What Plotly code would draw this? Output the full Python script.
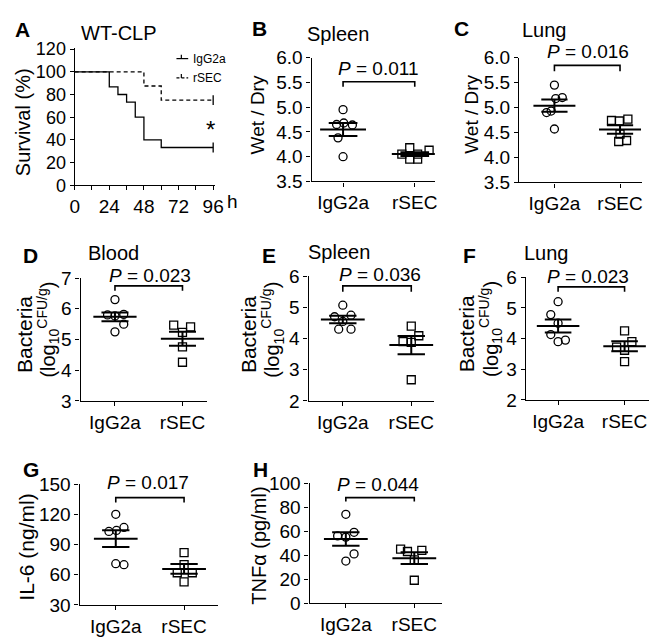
import numpy as np
import plotly.graph_objects as go

W, H = 658, 637
FONT = "Liberation Sans, Arial, sans-serif"

# ---------------- data ----------------
# Panel A survival (Kaplan-Meier steps)
surv_time_igg = [0, 24, 30, 36, 42, 48, 60, 96]
surv_igg = [100, 86.7, 80, 73.3, 60, 40, 33.3, 33.3]
surv_time_rsec = [0, 48, 60, 96]
surv_rsec = [100, 87.5, 75, 75]
surv_ticks = [0, 12, 24, 36, 48, 60, 72, 84, 96]
surv_names = ["IgG2a", "rSEC"]

groups = ["IgG2a", "rSEC"]

# B Spleen wet/dry
b_igg = [4.95, 4.65, 4.68, 4.64, 4.38, 4.00]
b_igg_j = [0.0, -0.09, 0.01, 0.13, -0.07, 0.0]
b_rsec = [4.05, 4.18, 3.95, 3.95, 4.05, 4.13]
b_rsec_j = [-0.18, -0.07, -0.07, 0.04, 0.04, 0.2]
# C Lung wet/dry
c_igg = [5.45, 5.18, 5.20, 4.90, 4.93, 4.57]
c_igg_j = [0.0, 0.02, 0.12, -0.12, -0.05, 0.0]
c_rsec = [4.74, 4.73, 4.77, 4.47, 4.32, 4.34]
c_rsec_j = [-0.13, -0.01, 0.12, 0.0, -0.02, 0.1]
# D Blood bacteria
d_igg = [6.30, 5.80, 5.77, 5.82, 5.50, 5.25]
d_igg_j = [0.0, -0.11, 0.0, 0.13, 0.13, 0.0]
d_rsec = [5.47, 5.41, 5.23, 4.76, 4.26]
d_rsec_j = [-0.13, 0.12, 0.0, 0.0, 0.0]
# E Spleen bacteria
e_igg = [5.07, 4.70, 4.75, 4.55, 4.30, 4.30]
e_igg_j = [0.0, -0.12, 0.12, 0.0, -0.06, 0.12]
e_rsec = [4.40, 4.09, 3.90, 3.88, 2.68]
e_rsec_j = [0.0, 0.11, -0.12, 0.0, 0.0]
# F Lung bacteria
f_igg = [5.20, 4.78, 4.50, 4.13, 3.90, 3.95]
f_igg_j = [0.0, -0.11, 0.0, -0.11, 0.0, 0.11]
f_rsec = [4.25, 3.90, 3.72, 3.62, 3.25]
f_rsec_j = [0.0, 0.11, -0.12, 0.0, 0.0]
# G IL-6
g_igg = [120, 103, 104, 107, 71, 70]
g_igg_j = [0.0, -0.1, 0.01, 0.12, 0.0, 0.12]
g_rsec = [82, 70, 62, 62, 53]
g_rsec_j = [0.0, 0.0, -0.1, 0.12, 0.0]
# H TNF-alpha
h_igg = [74, 56, 55, 59, 35, 41]
h_igg_j = [0.0, -0.12, 0.0, 0.12, 0.0, 0.12]
h_rsec = [45, 43, 44, 36, 19]
h_rsec_j = [-0.2, -0.1, 0.11, 0.0, 0.0]

p_values = ["0.011", "0.016", "0.023", "0.036", "0.023", "0.017", "0.044"]

# ---------------- helpers ----------------
def fx(px):
    return px / W

def fy(py):
    return 1 - py / H

fig = go.Figure()

TICK = 19
axis_common = dict(showline=True, linecolor="black", linewidth=1.3, ticks="outside",
                   ticklen=4, tickwidth=1.3, tickcolor="black", showgrid=False,
                   zeroline=False, tickfont=dict(family=FONT, size=TICK, color="black"))

def label(text, x_px, y_px, size=17, bold=False, anchor="center", angle=0):
    t = f"<b>{text}</b>" if bold else text
    fig.add_annotation(x=fx(x_px), y=fy(y_px), xref="paper", yref="paper", text=t,
                       showarrow=False, font=dict(family=FONT, size=size, color="black"),
                       xanchor=anchor, yanchor="middle", textangle=angle)

def add_axes(i, xdom, ydom, xrange, yrange, ytickvals, yticktext=None):
    xa = dict(axis_common, domain=[fx(xdom[0]), fx(xdom[1])], range=xrange, anchor=f"y{i}",
              tickvals=[1, 2], ticktext=groups)
    ya = dict(axis_common, domain=[fy(ydom[1]), fy(ydom[0])], range=yrange, anchor=f"x{i}",
              tickvals=ytickvals)
    if yticktext is not None:
        ya["ticktext"] = yticktext
    key = "" if i == 1 else str(i)
    fig.update_layout(**{f"xaxis{key}": xa, f"yaxis{key}": ya})

def dot_panel(i, igg, igg_j, rsec, rsec_j, half_mean=0.32, half_sem=0.2):
    xr = f"x{'' if i == 1 else i}"
    yr = f"y{'' if i == 1 else i}"
    for k, (vals, jit, sym) in enumerate([(igg, igg_j, "circle-open"), (rsec, rsec_j, "square-open")]):
        c = k + 1
        fig.add_trace(go.Scatter(
            x=[c + j for j in jit], y=vals, mode="markers", xaxis=xr, yaxis=yr,
            marker=dict(symbol=sym, size=8, color="black", line=dict(width=1.3)),
            showlegend=False, hoverinfo="skip"))
        v = np.array(vals, dtype=float)
        m = v.mean()
        s = v.std(ddof=1) / np.sqrt(len(v))
        lx = [c - half_mean, c + half_mean, None, c - half_sem, c + half_sem, None,
              c - half_sem, c + half_sem, None, c, c]
        ly = [m, m, None, m + s, m + s, None, m - s, m - s, None, m - s, m + s]
        fig.add_trace(go.Scatter(x=lx, y=ly, mode="lines", xaxis=xr, yaxis=yr,
                                 line=dict(color="black", width=2), showlegend=False,
                                 hoverinfo="skip"))

def bracket(i, y_line_px, y_tick_px, ptxt, p_x_px, p_y_px):
    xr = f"x{'' if i == 1 else i}"
    fig.add_shape(type="path", xref=xr, yref="paper",
                  path=f"M 1,{fy(y_tick_px)} L 1,{fy(y_line_px)} L 2,{fy(y_line_px)} L 2,{fy(y_tick_px)}",
                  line=dict(color="black", width=1.6))
    fig.add_annotation(x=fx(p_x_px), y=fy(p_y_px), xref="paper", yref="paper",
                       text=f"<i>P</i> = {ptxt}", showarrow=False,
                       font=dict(family=FONT, size=19, color="black"),
                       xanchor="center", yanchor="middle")

# ---------------- Panel A ----------------
fig.add_trace(go.Scatter(x=surv_time_igg, y=surv_igg, mode="lines", line_shape="hv",
                         line=dict(color="black", width=1.3), name=surv_names[0],
                         xaxis="x", yaxis="y", showlegend=False))
fig.add_trace(go.Scatter(x=surv_time_rsec, y=surv_rsec, mode="lines", line_shape="hv",
                         line=dict(color="black", width=1.3, dash="4px,3px"), name=surv_names[1],
                         xaxis="x", yaxis="y", showlegend=False))
fig.add_trace(go.Scatter(x=[surv_time_igg[-1], surv_time_rsec[-1]],
                         y=[surv_igg[-1], surv_rsec[-1]], mode="markers",
                         marker=dict(symbol="line-ns", size=7, line=dict(width=1.3, color="black")),
                         xaxis="x", yaxis="y", showlegend=False, hoverinfo="skip"))
fig.update_layout(
    xaxis=dict(axis_common, domain=[fx(63), fx(206)], range=[0, 97], anchor="y",
               tickvals=surv_ticks,
               ticktext=[str(t) if t % 24 == 0 else "" for t in surv_ticks],
               tickfont=dict(family=FONT, size=19, color="black")),
    yaxis=dict(axis_common, domain=[fy(173), fy(31)], range=[0, 121], anchor="x",
               tickvals=[0, 20, 40, 60, 80, 100, 120],
               tickfont=dict(family=FONT, size=18, color="black")),
)
label("h", 224, 190, size=19)
label("WT-CLP", 108, 15, size=20)
label("*", 202, 115, size=24)
label("Survival (%)", 11, 108, size=20, angle=-90)

# small hand-drawn legend of panel A
for k, (ly, dash) in enumerate([(42, "solid"), (62, "3px,2px")]):
    fig.add_shape(type="line", xref="paper", yref="paper", x0=fx(167), x1=fx(179),
                  y0=fy(ly), y1=fy(ly), line=dict(color="black", width=1.2, dash=dash))
    fig.add_shape(type="line", xref="paper", yref="paper", x0=fx(172), x1=fx(172),
                  y0=fy(ly), y1=fy(ly - 4), line=dict(color="black", width=1.2))
    label(surv_names[k], 182, ly, size=12, anchor="left")

# ---------------- Panels B..H ----------------
add_axes(2, (305, 431), (41, 169), [0.56, 2.28], [3.5, 6.0], [3.5, 4.0, 4.5, 5.0, 5.5, 6.0],
         ["3.5", "4.0", "4.5", "5.0", "5.5", "6.0"])
dot_panel(2, b_igg, b_igg_j, b_rsec, b_rsec_j)
bracket(2, 66, 71, p_values[0], 373, 52)
label("Wet / Dry", 250, 100, size=19, angle=-90)

add_axes(3, (517, 643), (41, 170), [0.46, 2.34], [3.5, 6.0], [3.5, 4.0, 4.5, 5.0, 5.5, 6.0],
         ["3.5", "4.0", "4.5", "5.0", "5.5", "6.0"])
dot_panel(3, c_igg, c_igg_j, c_rsec, c_rsec_j)
bracket(3, 49, 55, p_values[1], 587, 35)
label("Wet / Dry", 469, 100, size=19, angle=-90)

bact1 = "Bacteria"
bact2 = "(log<sub>10</sub><sup>CFU/g</sup>)"

add_axes(4, (69, 198), (269, 396), [0.49, 2.36], [3, 7], [3, 4, 5, 6, 7])
dot_panel(4, d_igg, d_igg_j, d_rsec, d_rsec_j)
bracket(4, 277, 282, p_values[2], 140, 266)
label(bact1, 11, 327, size=21, angle=-90)
label(bact2, 36, 322, size=20, angle=-90)

add_axes(5, (302, 430), (267, 396), [0.5, 2.33], [2, 6], [2, 3, 4, 5, 6])
dot_panel(5, e_igg, e_igg_j, e_rsec, e_rsec_j)
bracket(5, 277, 283, p_values[3], 375, 265)
label(bact1, 240, 327, size=21, angle=-90)
label(bact2, 265, 322, size=20, angle=-90)

add_axes(6, (524, 650), (268, 395), [0.515, 2.37], [2, 6], [2, 3, 4, 5, 6])
dot_panel(6, f_igg, f_igg_j, f_rsec, f_rsec_j)
bracket(6, 278, 283, p_values[4], 588, 267)
label(bact1, 463, 327, size=21, angle=-90)
label(bact2, 488, 322, size=20, angle=-90)

add_axes(7, (68, 209), (482, 607), [0.47, 2.49], [30, 150], [30, 60, 90, 120, 150])
dot_panel(7, g_igg, g_igg_j, g_rsec, g_rsec_j)
bracket(7, 496, 501, p_values[5], 138, 480)
label("IL-6 (ng/ml)", 14, 547, size=21, angle=-90)

add_axes(8, (303, 438), (481, 605), [0.47, 2.4], [0, 100], [0, 20, 40, 60, 80, 100])
dot_panel(8, h_igg, h_igg_j, h_rsec, h_rsec_j)
bracket(8, 496, 500, p_values[6], 373, 482)
label("TNFα (pg/ml)", 251, 546, size=20, angle=-90)

# panel letters and titles
for t, x, y in [("A", 10, 12), ("B", 252, 11), ("C", 458, 11), ("D", 18, 246),
                ("E", 262, 246), ("F", 466, 246), ("G", 18, 467), ("H", 253, 467)]:
    label(t, x, y, size=21, bold=True)
for t, x, y in [("Spleen", 332, 17), ("Lung", 543, 12), ("Blood", 103, 243),
                ("Spleen", 333, 242), ("Lung", 545, 243)]:
    label(t, x, y, size=20)

fig.update_layout(
    width=W, height=H, margin=dict(l=0, r=0, t=0, b=0),
    paper_bgcolor="white", plot_bgcolor="white",
    font=dict(family=FONT, color="black"),
    showlegend=False,
)

fig.write_html("out.html")
